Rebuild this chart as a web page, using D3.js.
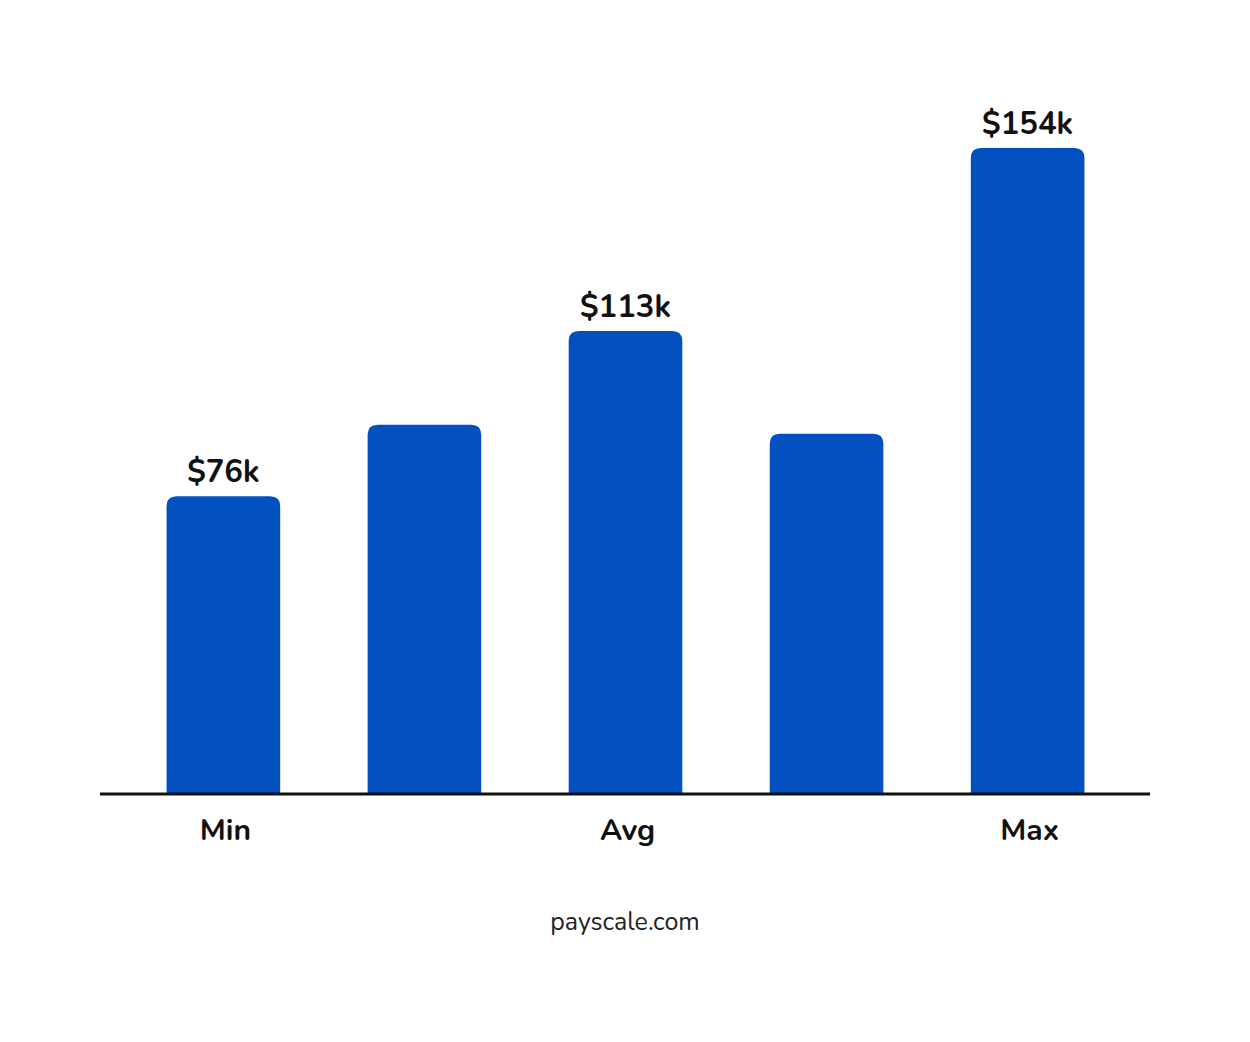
<!DOCTYPE html>
<html>
<head>
<meta charset="utf-8">
<script src="https://cdn.jsdelivr.net/npm/d3@7"></script>
<style>
  body { margin: 0; background: #fff; }
  text { font-family: "Nunito", "Noto Sans", sans-serif; }
</style>
</head>
<body>
<div id="chart"></div>
<script>
const categories = ['Min', 'p25', 'Avg', 'p75', 'Max'];
const values = [76, 92, 113, 90, 154];
const valueLabels = ['$76k', '', '$113k', '', '$154k'];
const axisLabels = ['Min', '', 'Avg', '', 'Max'];

const width = 1250;
const height = 1042;
const baseline = 793;
const radius = 10;

const svg = d3.select('#chart')
    .append('svg')
    .attr('width', width)
    .attr('height', height);

const x = d3.scaleBand().domain(categories).range([60, 1191]).paddingInner(0.435).paddingOuter(0.53);
const y = d3.scaleLinear().domain([9.5, 154]).range([baseline, 148]);

// rounded-top bars
const barPath = (d, i) => {
    const x0 = x(categories[i]);
    const w = x.bandwidth();
    const top = y(d);
    return `M${x0},${baseline}V${top + radius}Q${x0},${top} ${x0 + radius},${top}`
        + `H${x0 + w - radius}Q${x0 + w},${top} ${x0 + w},${top + radius}V${baseline}Z`;
};

svg.selectAll('.bar')
    .data(values)
    .enter()
    .append('path')
    .attr('class', 'bar')
    .attr('fill', '#0351c1')
    .attr('d', barPath);

svg.selectAll('.value')
    .data(values)
    .enter()
    .append('text')
    .attr('x', (d, i) => x(categories[i]) + x.bandwidth() / 2)
    .attr('y', d => y(d) - 14)
    .attr('text-anchor', 'middle')
    .attr('font-size', 31)
    .attr('font-weight', 700)
    .attr('fill', '#111')
    .text((d, i) => valueLabels[i]);

svg.append('line')
    .attr('x1', 100).attr('x2', 1150)
    .attr('y1', baseline + 1).attr('y2', baseline + 1)
    .attr('stroke', '#111').attr('stroke-width', 3);

svg.selectAll('.cat')
    .data(categories)
    .enter()
    .append('text')
    .attr('x', d => x(d) + x.bandwidth() / 2 + 2)
    .attr('y', 840)
    .attr('text-anchor', 'middle')
    .attr('font-size', 30)
    .attr('font-weight', 700)
    .attr('fill', '#111')
    .text((d, i) => axisLabels[i]);

svg.append('text')
    .attr('x', 625)
    .attr('y', 930)
    .attr('text-anchor', 'middle')
    .attr('font-size', 25)
    .attr('fill', '#222')
    .text('payscale.com');
</script>
</body>
</html>
